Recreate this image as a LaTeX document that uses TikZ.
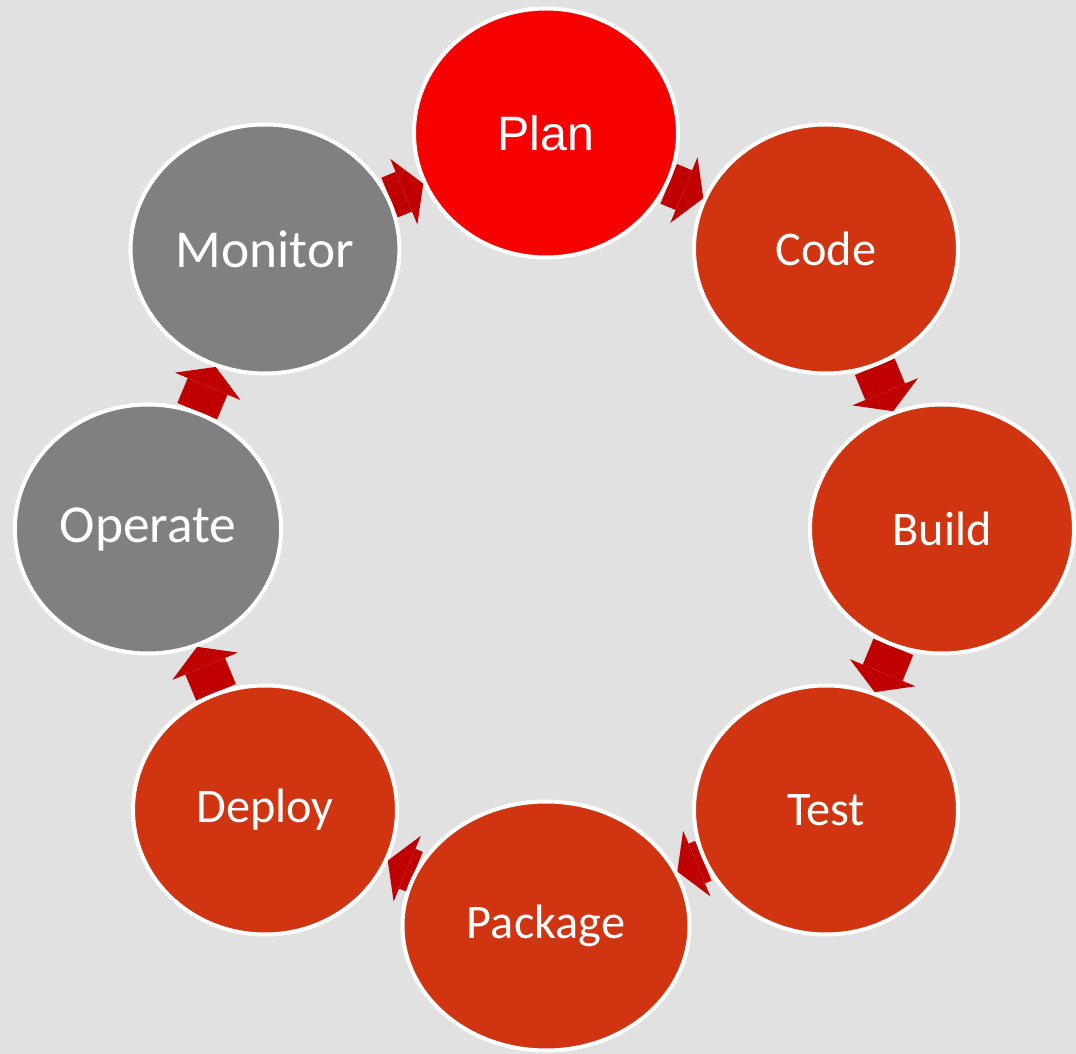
\documentclass[tikz,border=0pt]{standalone}
\usepackage{fontspec}
\setmainfont{Carlito}
\newfontfamily\planfont{Liberation Sans}
\usetikzlibrary{shapes.geometric,arrows.meta,backgrounds}
\definecolor{canvasGray}{RGB}{224,225,224}
\definecolor{planRed}{RGB}{247,0,0}
\definecolor{stageRed}{RGB}{209,52,16}
\definecolor{opsGray}{RGB}{128,128,128}
\definecolor{arrowRed}{RGB}{192,0,0}
\tikzset{%
  % Specifications for style of nodes:
       base/.style = {ellipse, draw=white, line width=0.08cm,
                      minimum width=5.28cm, minimum height=4.98cm,
                      text=white, font=\fontsize{27.5pt}{31pt}\selectfont},
   planning/.style = {base, fill=planRed,
                      font=\planfont\fontsize{27.5pt}{31pt}\selectfont},
   building/.style = {base, fill=stageRed},
  operating/.style = {base, fill=opsGray, font=\fontsize{30.4pt}{34pt}\selectfont},
  % Specifications for style of connectors:
 cyclearrow/.style = {draw=arrowRed, line width=0.86cm,
                      -{Triangle[length=0.42cm, width=1.42cm, line width=0pt]}},
}

\begin{document}
\begin{tikzpicture}
  \useasboundingbox (0,0) rectangle (21.52,-21.08);
  \node (plan)    [planning]  at (10.92,-2.66)  {Plan};
  \node (code)    [building]  at (16.52,-4.98)  {Code};
  \node (build)   [building]  at (18.84,-10.58) {Build};
  \node (test)    [building]  at (16.52,-16.20) {Test};
  \node (package) [building, minimum width=5.74cm] at (10.92,-18.52) {Package};
  \node (deploy)  [building]  at (5.30,-16.20)  {Deploy};
  \node (operate) [operating] at (2.96,-10.58)  {Operate};
  \node (monitor) [operating] at (5.30,-4.98)   {Monitor};

  \begin{pgfonlayer}{background}
    \fill[canvasGray] (0,0) rectangle (21.52,-21.08);
    \foreach \from/\to in {plan/code, code/build, build/test, test/package,
                           package/deploy, deploy/operate, operate/monitor, monitor/plan}
      \draw[cyclearrow] (\from) -- (\to);
  \end{pgfonlayer}
\end{tikzpicture}
\end{document}
